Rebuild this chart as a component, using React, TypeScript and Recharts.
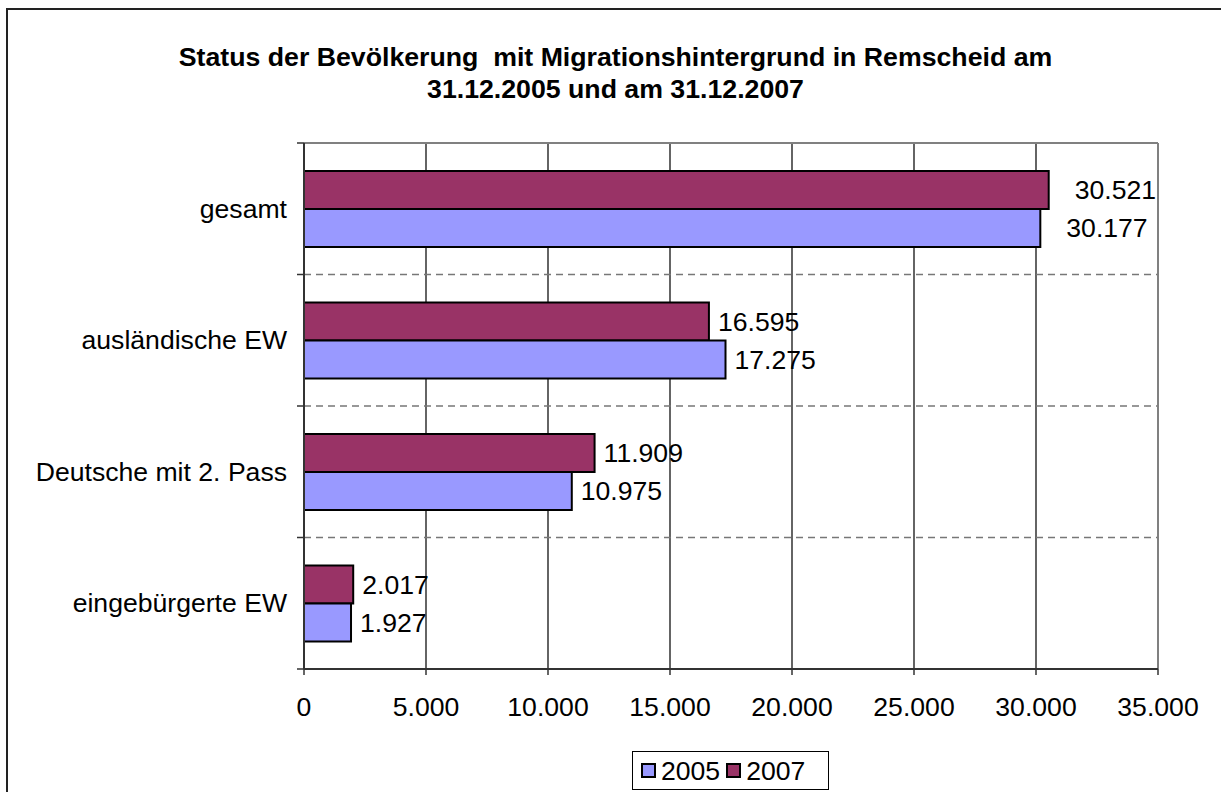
import { Bar, BarChart, CartesianGrid, LabelList, XAxis, YAxis } from "recharts";

const categories = ["gesamt", "ausländische EW", "Deutsche mit 2. Pass", "eingebürgerte EW"];
const values2005 = [30177, 17275, 10975, 1927];
const values2007 = [30521, 16595, 11909, 2017];
const xTicks = [0, 5000, 10000, 15000, 20000, 25000, 30000, 35000];
const seriesNames = ["2005", "2007"];

const data = categories.map((name, i) => ({
  name,
  v2005: values2005[i],
  v2007: values2007[i],
}));

const W = 1221;
const H = 792;
const TOP = 143;
const BOTTOM = 123;
const LEFT = 304;
const RIGHT = 63;
const PLOT_H = H - TOP - BOTTOM;
const FONT = "'Liberation Sans', Arial, Helvetica, sans-serif";
const FS = 26.6;
const C2005 = "#9999FF";
const C2007 = "#993366";

const fmt = (v: number) => String(v).replace(/\B(?=(\d{3})+(?!\d))/g, ".");

function CategoryTick(props: any) {
  const { x, y, payload, index } = props;
  const half = PLOT_H / categories.length / 2;
  return (
    <g>
      <line x1={x - 7} x2={x} y1={y - half} y2={y - half} stroke="#333" strokeWidth={1.5} />
      {index === categories.length - 1 && (
        <line x1={x - 7} x2={x} y1={y + half} y2={y + half} stroke="#333" strokeWidth={1.5} />
      )}
      <text x={x - 17} y={y} textAnchor="end" dominantBaseline="central" fontSize={FS} fontFamily={FONT} fill="#000">
        {payload.value}
      </text>
    </g>
  );
}

function ValueLabel(props: any) {
  const { x, y, width, height, value, index } = props;
  const dx = index === 0 ? 26 : 9;
  return (
    <text
      x={x + width + dx}
      y={y + height / 2}
      dominantBaseline="central"
      fontSize={FS}
      fontFamily={FONT}
      fill="#000"
    >
      {fmt(value)}
    </text>
  );
}

function LegendBox() {
  const item = (color: string, label: string) => (
    <div style={{ display: "flex", alignItems: "center", marginRight: 6 }}>
      <div style={{ width: 11, height: 11, background: color, border: "2px solid #000", marginRight: 5 }} />
      <span>{label}</span>
    </div>
  );
  return (
    <div
      style={{
        position: "absolute",
        left: 632,
        top: 751,
        width: 197,
        height: 39,
        border: "1px solid #000",
        background: "#fff",
        display: "flex",
        alignItems: "center",
        paddingLeft: 8,
        boxSizing: "border-box",
        fontFamily: FONT,
        fontSize: FS,
        lineHeight: "26px",
      }}
    >
      {item(C2005, seriesNames[0])}
      {item(C2007, seriesNames[1])}
    </div>
  );
}

export default function App() {
  return (
    <div style={{ position: "absolute", left: 0, top: 0, width: W, height: H, overflow: "hidden", background: "#fff" }}>
      <div
        style={{
          position: "absolute",
          left: 6,
          top: 8,
          width: 1400,
          height: 1000,
          border: "2px solid #222",
        }}
      />
      <div
        style={{
          position: "absolute",
          left: 0,
          top: 41,
          width: 1231,
          textAlign: "center",
          fontFamily: FONT,
          fontWeight: "bold",
          fontSize: 26.7,
          lineHeight: "32px",
        }}
      >
        Status der Bevölkerung&nbsp; mit Migrationshintergrund in Remscheid am
        <br />
        31.12.2005 und am 31.12.2007
      </div>
      <div style={{ position: "absolute", left: 0, top: 0 }}>
        <BarChart
          width={W}
          height={H}
          data={data}
          layout="vertical"
          margin={{ top: TOP, right: RIGHT, left: 0, bottom: BOTTOM - 60 }}
          barCategoryGap={28}
          barGap={0}
        >
          <CartesianGrid
            horizontal={false}
            vertical={true}
            stroke="#111"
            strokeWidth={1.3}
          />
          <CartesianGrid
            vertical={false}
            stroke="#777"
            strokeWidth={1.5}
            strokeDasharray="7 5"
            horizontalCoordinatesGenerator={({ offset }: any) =>
              [1, 2, 3].map((i) => offset.top + (offset.height * i) / categories.length)
            }
          />
          <CartesianGrid
            stroke="#808080"
            strokeWidth={2}
            horizontalCoordinatesGenerator={({ offset }: any) => [offset.top]}
            verticalCoordinatesGenerator={({ offset }: any) => [offset.left + offset.width]}
          />
          <XAxis
            type="number"
            domain={[0, 35000]}
            ticks={xTicks}
            interval={0}
            tickFormatter={fmt}
            height={60}
            tickSize={6}
            tickMargin={22}
            axisLine={{ stroke: "#333", strokeWidth: 2 }}
            tickLine={{ stroke: "#333", strokeWidth: 1.5 }}
            tick={{ fontSize: FS, fill: "#000", fontFamily: FONT }}
          />
          <YAxis
            type="category"
            dataKey="name"
            width={LEFT}
            tickSize={0}
            tickMargin={0}
            tickLine={false}
            interval={0}
            axisLine={{ stroke: "#333", strokeWidth: 2 }}
            tick={<CategoryTick />}
          />
          <Bar dataKey="v2007" name={seriesNames[1]} fill={C2007} stroke="#000" strokeWidth={2} isAnimationActive={false}>
            <LabelList dataKey="v2007" content={<ValueLabel />} />
          </Bar>
          <Bar dataKey="v2005" name={seriesNames[0]} fill={C2005} stroke="#000" strokeWidth={2} isAnimationActive={false}>
            <LabelList dataKey="v2005" content={<ValueLabel />} />
          </Bar>
        </BarChart>
      </div>
      <LegendBox />
    </div>
  );
}
